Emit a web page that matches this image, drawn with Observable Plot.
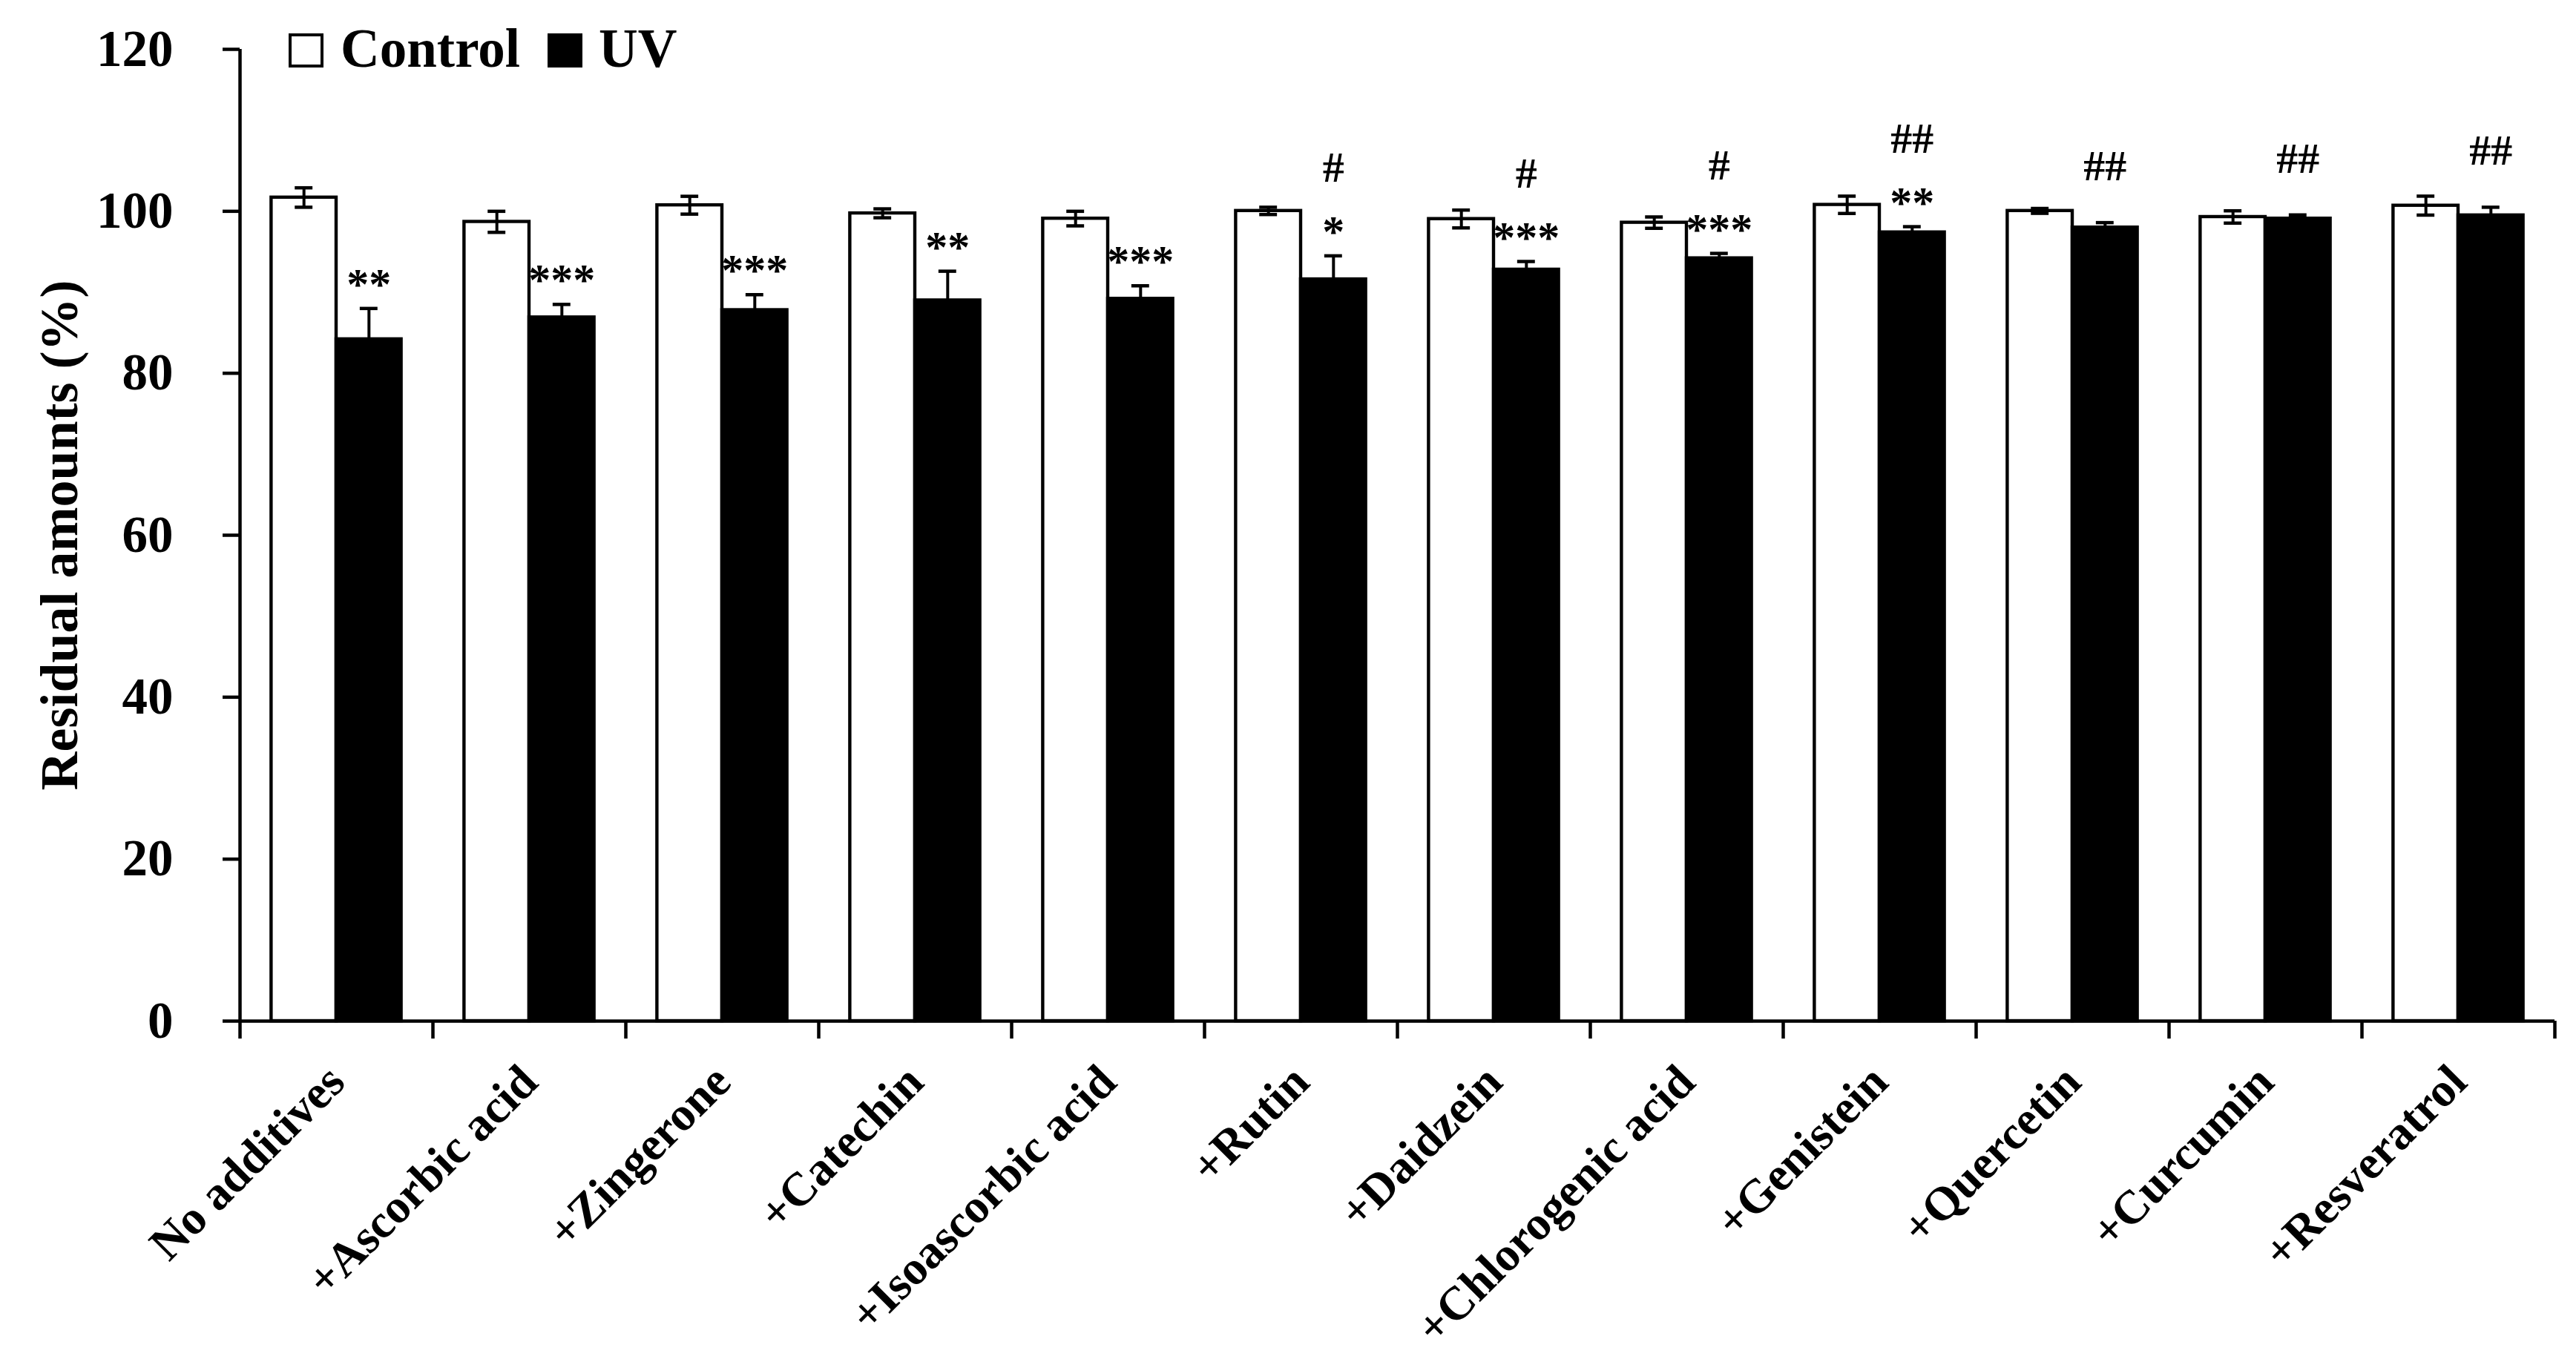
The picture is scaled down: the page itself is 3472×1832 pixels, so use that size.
<!DOCTYPE html>
<html>
<head>
<meta charset="utf-8">
<script src="https://cdn.jsdelivr.net/npm/d3@7"></script>
<script src="https://cdn.jsdelivr.net/npm/@observablehq/plot@0.6"></script>
<style>
  html, body { margin: 0; padding: 0; background: #fff; overflow: hidden; }
  #wrap { position: relative; width: 3472px; height: 1832px; }
  .lg { position: absolute; font-family: "Liberation Serif", serif; font-weight: bold; font-size: 73px; line-height: 1; color: #000; white-space: nowrap; }
  .sw { position: absolute; box-sizing: border-box; border: 4.5px solid #000; }
</style>
</head>
<body>
<div id="wrap">
  <div class="sw" style="left:389px; top:45px; width:47px; height:46px; background:#fff;"></div>
  <div class="lg" style="left:459px; top:29px;">Control</div>
  <div class="sw" style="left:738px; top:45px; width:47px; height:46px; background:#000;"></div>
  <div class="lg" style="left:807px; top:29px;">UV</div>
</div>
<script>
const categories = ["No additives", "+Ascorbic acid", "+Zingerone", "+Catechin", "+Isoascorbic acid", "+Rutin",
  "+Daidzein", "+Chlorogenic acid", "+Genistein", "+Quercetin", "+Curcumin", "+Resveratrol"];
const controlValues = [101.7, 98.7, 100.75, 99.75, 99.1, 100.05, 99.05, 98.6, 100.8, 100.05, 99.3, 100.7];
const controlErrors = [1.2, 1.3, 1.1, 0.55, 0.9, 0.45, 1.1, 0.7, 1.07, 0.3, 0.76, 1.17];
const uvValues = [84.2, 86.9, 87.8, 89.0, 89.2, 91.6, 92.8, 94.2, 97.4, 98.0, 99.1, 99.5];
const uvErrors = [3.8, 1.6, 1.9, 3.6, 1.6, 2.9, 1.0, 0.6, 0.7, 0.6, 0.45, 1.0];
const stars = ["**", "***", "***", "**", "***", "*", "***", "***", "**", "", "", ""];
const hashes = ["", "", "", "", "", "#", "#", "#", "##", "##", "##", "##"];
const yTicks = [0, 20, 40, 60, 80, 100, 120];
const yTitle = "Residual amounts (%)";

const BAR = 0.337;   // bar width as a fraction of a category slot
const CAP = 0.046;   // half cap width, same units

const rows = categories.flatMap((c, i) => [
  {i, series: "Control", x1: i + 0.5 - BAR, x2: i + 0.5, value: controlValues[i], err: controlErrors[i], lo: controlValues[i] - controlErrors[i]},
  {i, series: "UV", x1: i + 0.5, x2: i + 0.5 + BAR, value: uvValues[i], err: uvErrors[i], lo: uvValues[i]}
]);
rows.forEach(d => { d.cx = (d.x1 + d.x2) / 2; d.hi = d.value + d.err; });
const caps = rows.flatMap(d => d.series === "Control" ? [{cx: d.cx, y: d.hi}, {cx: d.cx, y: d.lo}] : [{cx: d.cx, y: d.hi}]);
const uvRows = rows.filter(d => d.series === "UV");
const starRows = uvRows.filter(d => stars[d.i]);
const hashWithStars = uvRows.filter(d => hashes[d.i] && stars[d.i]);
const hashAlone = uvRows.filter(d => hashes[d.i] && !stars[d.i]);

const font = "'Liberation Serif', 'Times New Roman', serif";

const chart = Plot.plot({
  width: 3472,
  height: 1832,
  marginLeft: 323,
  marginRight: 29,
  marginTop: 66,
  marginBottom: 456,
  style: {fontFamily: font, fontWeight: "bold", background: "#fff", color: "#000"},
  x: {type: "linear", domain: [0, categories.length], axis: null},
  y: {domain: [0, 120], axis: null},
  color: {domain: ["Control", "UV"], range: ["#fff", "#000"]},
  marks: [
    Plot.rectY(rows, {x1: "x1", x2: "x2", y1: 0, y2: "value", fill: "series", stroke: "#000", strokeWidth: 4.4}),
    Plot.ruleX(rows, {x: "cx", y1: "lo", y2: "hi", stroke: "#000", strokeWidth: 4}),
    Plot.ruleY(caps, {y: "y", x1: d => d.cx - CAP, x2: d => d.cx + CAP, stroke: "#000", strokeWidth: 4.5}),
    Plot.ruleX([0], {y1: 0, y2: 120, stroke: "#000", strokeWidth: 4.5}),
    Plot.ruleY([0], {x1: 0, x2: categories.length, stroke: "#000", strokeWidth: 4.5}),
    Plot.axisY({ticks: yTicks, tickSize: 23, tickPadding: 67, fontSize: 69, fontWeight: "bold", strokeWidth: 4.5, label: null}),
    Plot.axisX({ticks: d3.range(categories.length + 1), tickSize: 24, tickFormat: () => "", strokeWidth: 4.5, label: null}),
    Plot.text(categories, {x: (d, i) => i + 0.5, frameAnchor: "bottom", text: d => d, rotate: -45, textAnchor: "end", lineAnchor: "middle", dy: 71, fontSize: 64, fontWeight: "bold"}),
    Plot.text([yTitle], {frameAnchor: "left", text: d => d, rotate: -90, textAnchor: "middle", lineAnchor: "middle", dx: -243, fontSize: 72, fontWeight: "bold"}),
    Plot.text(starRows, {x: "cx", y: "hi", text: d => stars[d.i], lineAnchor: "bottom", dy: -13, fontSize: 60, fontWeight: "bold"}),
    Plot.text(hashAlone, {x: "cx", y: "hi", text: d => hashes[d.i], lineAnchor: "bottom", dy: -57, fontSize: 58, fontWeight: "bold"}),
    Plot.text(hashWithStars, {x: "cx", y: "hi", text: d => hashes[d.i], lineAnchor: "bottom", dy: -100, fontSize: 58, fontWeight: "bold"})
  ]
});
document.getElementById("wrap").prepend(chart);
</script>
</body>
</html>
